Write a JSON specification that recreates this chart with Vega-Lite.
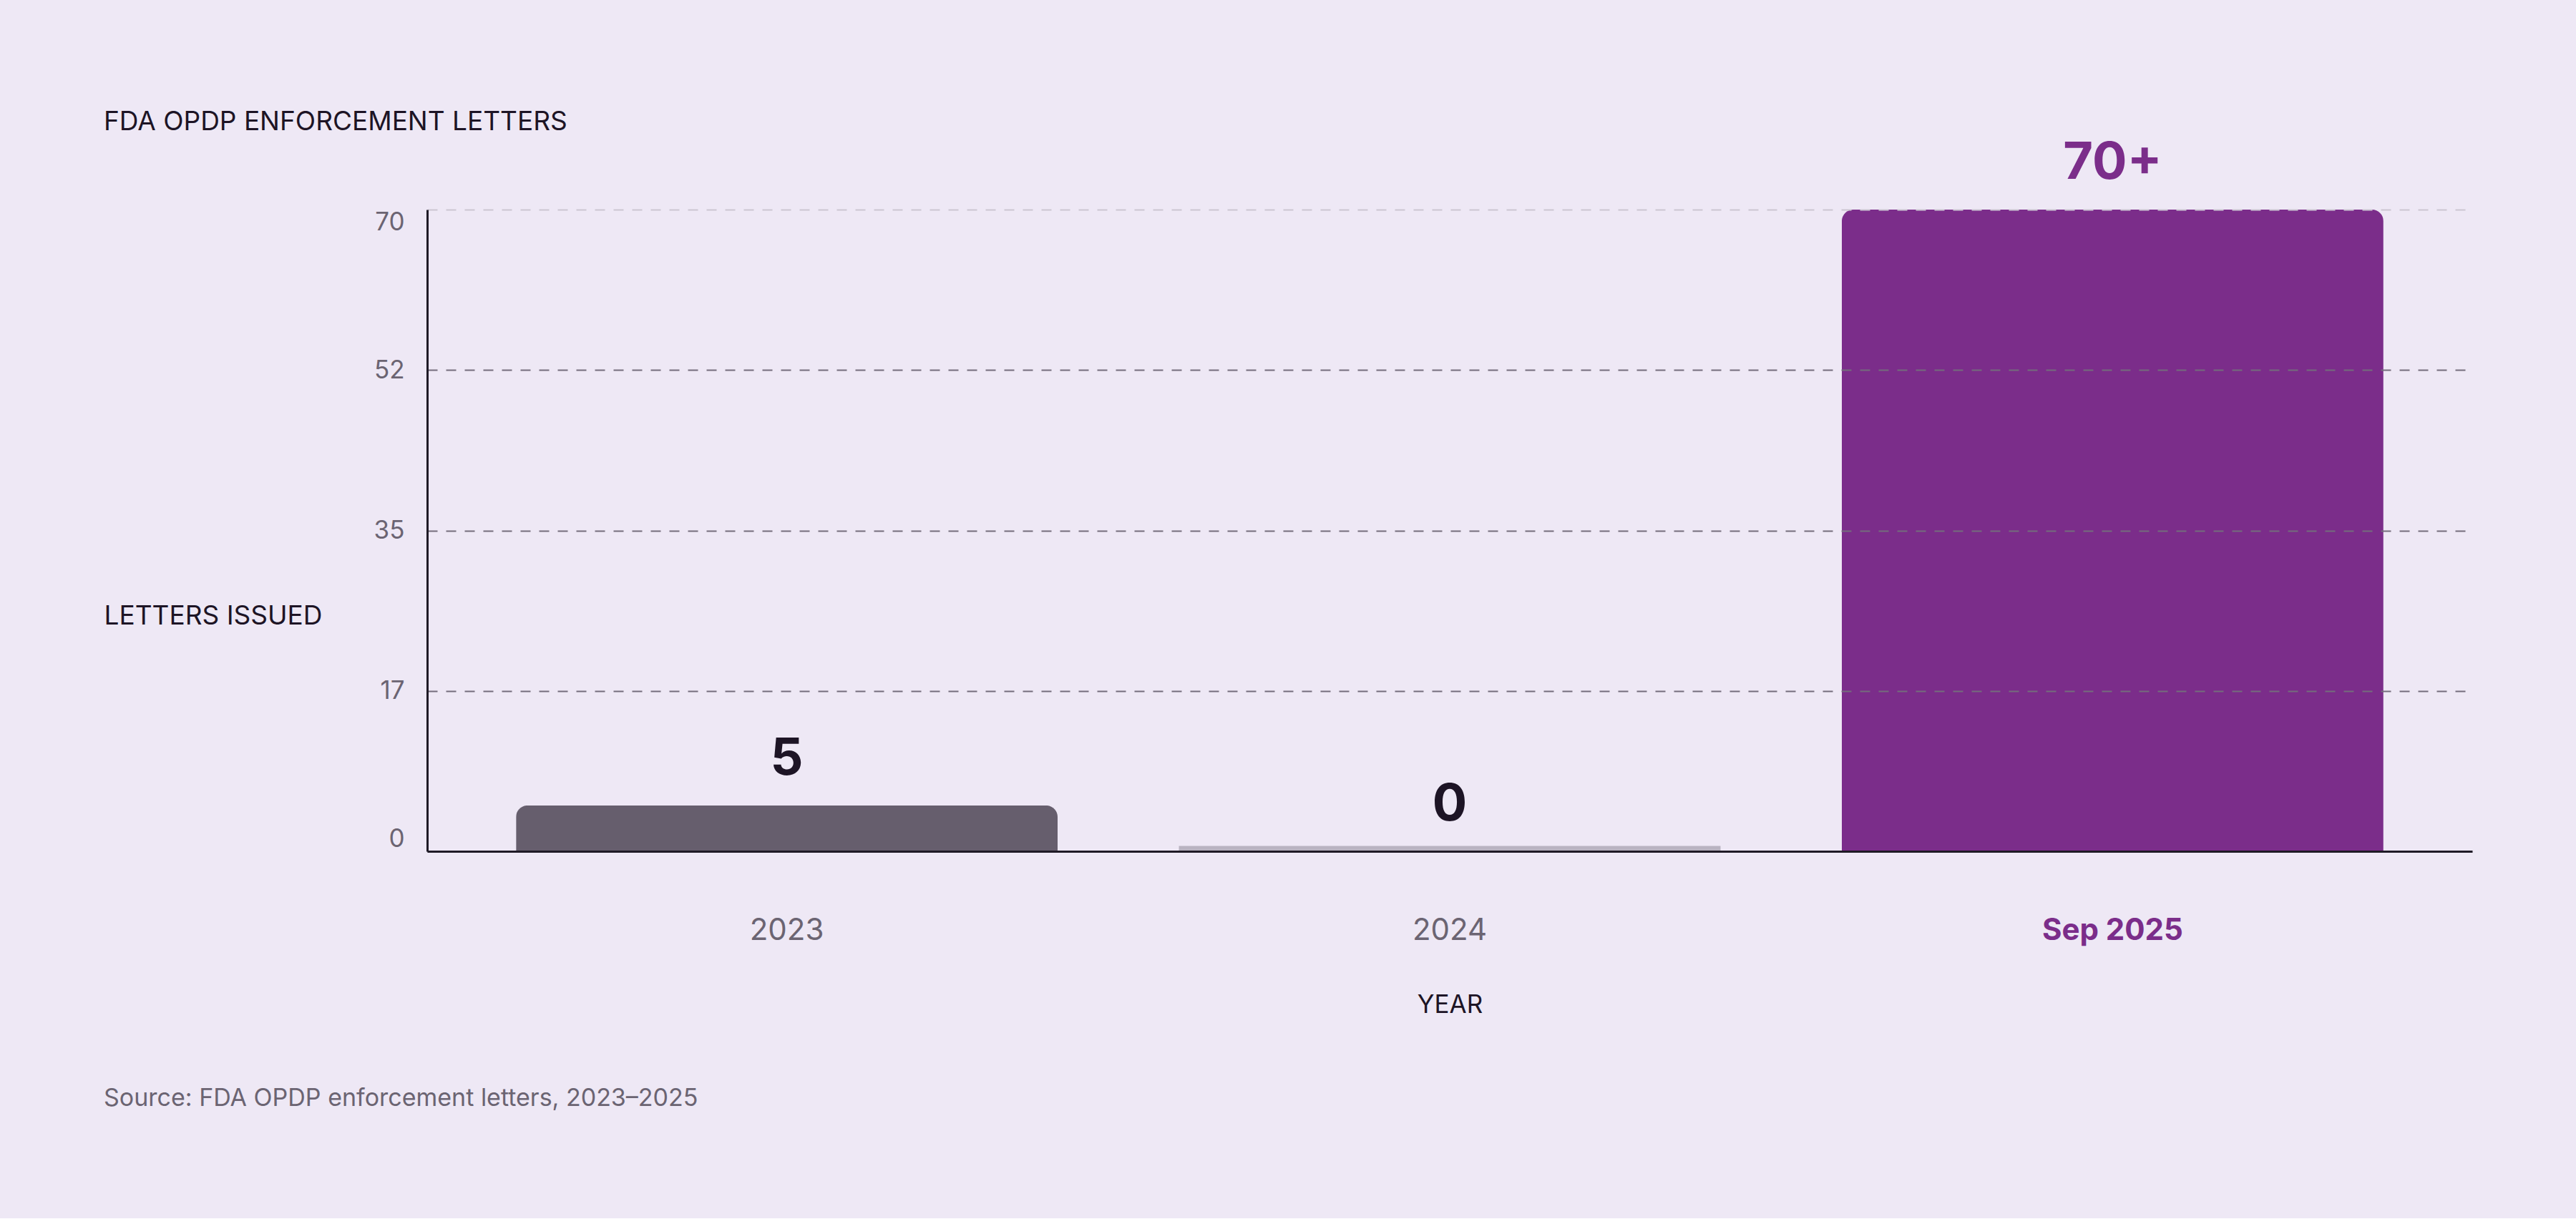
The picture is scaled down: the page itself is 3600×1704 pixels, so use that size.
{
  "$schema": "https://vega.github.io/schema/vega-lite/v6.json",
  "background": "#eee8f5",
  "padding": {"left": 145, "top": 152, "right": 145, "bottom": 150},
  "title": {
    "text": "Source: FDA OPDP enforcement letters, 2023–2025",
    "orient": "bottom",
    "anchor": "start",
    "frame": "bounds",
    "font": "Inter",
    "fontSize": 34,
    "fontWeight": "normal",
    "color": "#6b6472",
    "offset": 97
  },
  "vconcat": [
    {
      "title": {
        "text": "FDA OPDP ENFORCEMENT LETTERS",
        "anchor": "start",
        "frame": "bounds",
        "font": "Inter",
        "fontSize": 37,
        "fontWeight": "normal",
        "color": "#1d1425",
        "offset": 2
      },
      "width": 2858,
      "height": 897,
      "data": {
        "values": [
          {"year": "2023", "letters": 5, "label": "5"},
          {"year": "2024", "letters": 0, "label": "0"},
          {"year": "Sep 2025", "letters": 70, "label": "70+"}
        ]
      },
      "encoding": {
        "x": {
          "field": "year",
          "type": "nominal",
          "sort": null,
          "title": "YEAR",
          "scale": {"paddingInner": 0.183, "paddingOuter": 0.134},
          "axis": {
            "labelAngle": 0,
            "labelFont": "Inter",
            "labelFontSize": 42,
            "labelBaseline": "alphabetic",
            "labelPadding": 123,
            "labelLimit": 0,
            "labelColor": {"condition": {"test": "datum.value === 'Sep 2025'", "value": "#7b2d8a"}, "value": "#6b6472"},
            "labelFontWeight": {"condition": {"test": "datum.value === 'Sep 2025'", "value": "bold"}, "value": "normal"},
            "ticks": false,
            "tickSize": 0,
            "domainColor": "#1f1a26",
            "domainWidth": 3,
            "titleFont": "Inter",
            "titleFontSize": 35,
            "titleFontWeight": "normal",
            "titleColor": "#1d1425",
            "titleBaseline": "alphabetic",
            "titleY": 225,
            "zindex": 1
          }
        }
      },
      "layer": [
        {
          "mark": {"type": "bar", "cornerRadiusEnd": 16},
          "encoding": {
            "y": {
              "field": "letters",
              "type": "quantitative",
              "title": "LETTERS ISSUED",
              "scale": {"domain": [0, 70]},
              "axis": {
                "values": [0, 17.5, 35, 52.5, 70],
                "labelExpr": "floor(datum.value)",
                "labelFont": "Inter",
                "labelFontSize": 35,
                "labelColor": "#6b6472",
                "labelPadding": 32,
                "labelFlush": true,
                "labelFlushOffset": 0,
                "ticks": false,
                "tickSize": 0,
                "domainColor": "#1f1a26",
                "domainWidth": 3,
                "grid": true,
                "gridDash": [14, 12],
                "gridWidth": 2,
                "gridColor": {"condition": {"test": "datum.value === 70", "value": "#cbc5d2"}, "value": "#746d7c"},
                "titleAngle": 0,
                "titleAlign": "left",
                "titleBaseline": "alphabetic",
                "titleX": -452,
                "titleY": 579,
                "titleFont": "Inter",
                "titleFontSize": 37,
                "titleFontWeight": "normal",
                "titleColor": "#1d1425",
                "zindex": 1
              }
            },
            "color": {
              "field": "year",
              "type": "nominal",
              "scale": {"domain": ["2023", "2024", "Sep 2025"], "range": ["#665e6d", "#b9b3c1", "#7b2d8a"]},
              "legend": null
            }
          }
        },
        {
          "transform": [{"filter": "datum.letters === 0"}],
          "mark": {"type": "tick", "thickness": 7, "size": 757, "yOffset": -4, "color": "#b9b3c1", "opacity": 1},
          "encoding": {
            "y": {"field": "letters", "type": "quantitative"}
          }
        },
        {
          "mark": {"type": "text", "font": "Inter", "fontSize": 72, "fontWeight": "bold", "baseline": "alphabetic", "dy": -43},
          "encoding": {
            "y": {"field": "letters", "type": "quantitative"},
            "text": {"field": "label"},
            "color": {"condition": {"test": "datum.year === 'Sep 2025'", "value": "#7b2d8a"}, "value": "#1d1425"}
          }
        }
      ]
    }
  ],
  "config": {
    "view": {"stroke": null},
    "font": "Inter"
  }
}
